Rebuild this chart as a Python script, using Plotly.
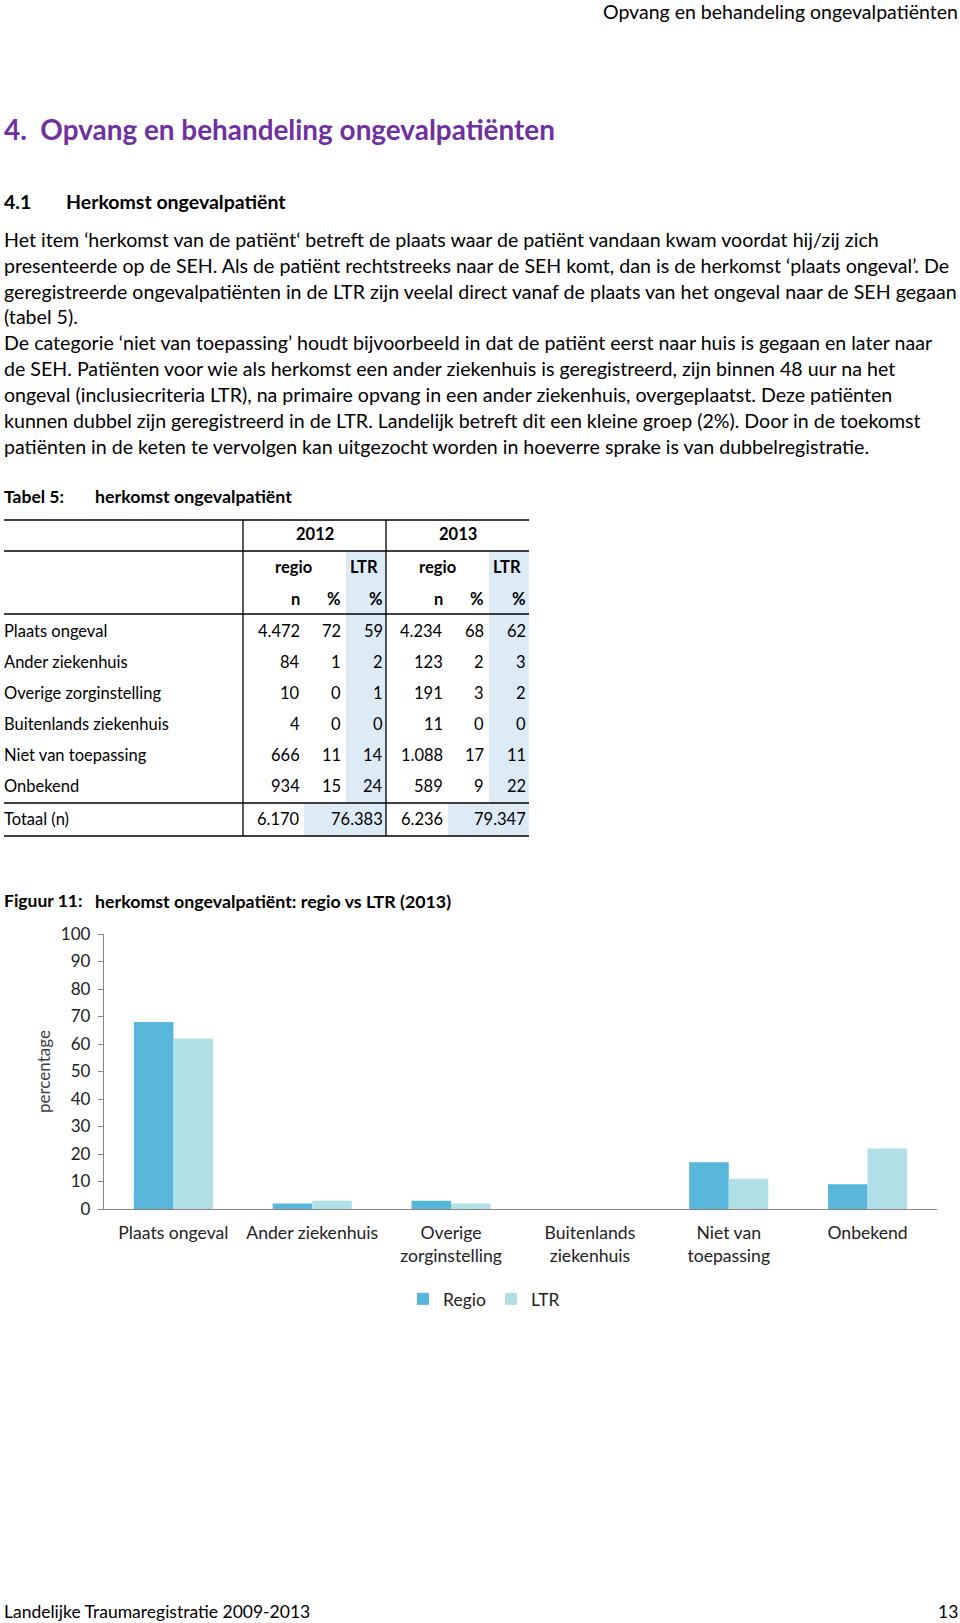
import plotly.graph_objects as go

W, H = 960, 1623
FONT = "Lato"

# ---------------- data ----------------
header_right = "Opvang en behandeling ongevalpatiënten"
title = "4.  Opvang en behandeling ongevalpatiënten"
sub_num = "4.1"
sub_title = "Herkomst ongevalpatiënt"
paragraph_lines = [
    "Het item ‘herkomst van de patiënt‘ betreft de plaats waar de patiënt vandaan kwam voordat hij/zij zich",
    "presenteerde op de SEH. Als de patiënt rechtstreeks naar de SEH komt, dan is de herkomst ‘plaats ongeval’. De",
    "geregistreerde ongevalpatiënten in de LTR zijn veelal direct vanaf de plaats van het ongeval naar de SEH gegaan",
    "(tabel 5).",
    "De categorie ‘niet van toepassing’ houdt bijvoorbeeld in dat de patiënt eerst naar huis is gegaan en later naar",
    "de SEH. Patiënten voor wie als herkomst een ander ziekenhuis is geregistreerd, zijn binnen 48 uur na het",
    "ongeval (inclusiecriteria LTR), na primaire opvang in een ander ziekenhuis, overgeplaatst. Deze patiënten",
    "kunnen dubbel zijn geregistreerd in de LTR. Landelijk betreft dit een kleine groep (2%). Door in de toekomst",
    "patiënten in de keten te vervolgen kan uitgezocht worden in hoeverre sprake is van dubbelregistratie.",
]
table_label = "Tabel 5:"
table_title = "herkomst ongevalpatiënt"
years = ["2012", "2013"]
row_labels = ["Plaats ongeval", "Ander ziekenhuis", "Overige zorginstelling",
              "Buitenlands ziekenhuis", "Niet van toepassing", "Onbekend"]
n_2012 = ["4.472", "84", "10", "4", "666", "934"]
pct_2012 = [72, 1, 0, 0, 11, 15]
ltr_2012 = [59, 2, 1, 0, 14, 24]
n_2013 = ["4.234", "123", "191", "11", "1.088", "589"]
pct_2013 = [68, 2, 3, 0, 17, 9]
ltr_2013 = [62, 3, 2, 0, 11, 22]
total_label = "Totaal (n)"
total_n = ["6.170", "6.236"]
total_ltr = ["76.383", "79.347"]

fig_label = "Figuur 11:"
fig_title = "herkomst ongevalpatiënt: regio vs LTR (2013)"
chart_categories = ["Plaats ongeval", "Ander ziekenhuis", "Overige<br>zorginstelling",
                    "Buitenlands<br>ziekenhuis", "Niet van<br>toepassing", "Onbekend"]
regio_values = pct_2013
ltr_values = ltr_2013
y_ticks = list(range(0, 101, 10))
footer_left = "Landelijke Traumaregistratie 2009-2013"
footer_right = "13"

# ---------------- helpers ----------------
def px(x):
    return x / W

def py(y):
    return 1 - y / H

annotations = []
shapes = []

def txt(x, y, s, size=17, bold=False, color="black", anchor="left", angle=0):
    annotations.append(dict(
        x=px(x), y=py(y), xref="paper", yref="paper", text=s, showarrow=False,
        xanchor=anchor, yanchor="middle", textangle=angle, borderpad=0,
        font=dict(family=FONT, size=size, color=color, weight="bold" if bold else "normal"),
    ))

def hline(y, x0, x1, w=1.3, color="black"):
    shapes.append(dict(type="line", xref="paper", yref="paper", x0=px(x0), x1=px(x1),
                       y0=py(y), y1=py(y), line=dict(color=color, width=w)))

def vline(x, y0, y1, w=1.3, color="black"):
    shapes.append(dict(type="line", xref="paper", yref="paper", x0=px(x), x1=px(x),
                       y0=py(y0), y1=py(y1), line=dict(color=color, width=w)))

def rect(x0, y0, x1, y1, color):
    shapes.append(dict(type="rect", xref="paper", yref="paper", x0=px(x0), x1=px(x1),
                       y0=py(y1), y1=py(y0), line=dict(width=0), fillcolor=color, layer="below"))

BODY = 19.6

# ---------------- page text ----------------
txt(959, 11.5, header_right, size=19.5, anchor="right")
txt(3, 129.5, title, size=27.9, bold=True, color="#7030A0")
txt(3, 201, sub_num, size=19.5, bold=True)
txt(65, 201, sub_title, size=19.5, bold=True)
line_y = [239.2, 265.1, 291.0, 316.9, 342.8, 368.7, 394.6, 420.5, 446.3]
for yy, line in zip(line_y, paragraph_lines):
    txt(3, yy, line, size=BODY)

# ---------------- table ----------------
TS = 16.5
txt(3, 496, table_label, size=17.5, bold=True)
txt(94, 496, table_title, size=17.8, bold=True)

X0, XV1, XV2, X1 = 4, 243, 386, 529
Y_TOP, Y_H1, Y_H2, Y_TOT, Y_BOT = 520, 551, 614, 803, 836
SHADE = "#DDEBF7"
rect(346, Y_H1, XV2, Y_TOT, SHADE)
rect(489, Y_H1, X1, Y_TOT, SHADE)
rect(304, Y_TOT, XV2, Y_BOT, SHADE)
rect(448, Y_TOT, X1, Y_BOT, SHADE)
for yy in [Y_TOP, Y_H1, Y_H2, Y_TOT, Y_BOT]:
    hline(yy, X0, X1)
for xx in [XV1, XV2]:
    vline(xx, Y_TOP, Y_BOT)

txt((XV1 + XV2) / 2, 534, years[0], size=TS, bold=True, anchor="center")
txt((XV2 + X1) / 2, 534, years[1], size=TS, bold=True, anchor="center")
txt(293, 567, "regio", size=TS, bold=True, anchor="center")
txt(364, 567, "LTR", size=TS, bold=True, anchor="center")
txt(437, 567, "regio", size=TS, bold=True, anchor="center")
txt(507, 567, "LTR", size=TS, bold=True, anchor="center")
col_right = [301, 342, 384, 444, 485, 527]
for cx, s in zip(col_right, ["n", "%", "%", "n", "%", "%"]):
    txt(cx, 599, s, size=TS, bold=True, anchor="right")

row_y = [631, 662, 693, 724, 755, 786]
for i, yy in enumerate(row_y):
    txt(3, yy, row_labels[i], size=TS)
    vals = [n_2012[i], str(pct_2012[i]), str(ltr_2012[i]),
            n_2013[i], str(pct_2013[i]), str(ltr_2013[i])]
    for cx, v in zip(col_right, vals):
        txt(cx, yy, v, size=TS, anchor="right")
txt(3, 819, total_label, size=TS)
txt(col_right[0], 819, total_n[0], size=TS, anchor="right")
txt(col_right[2], 819, total_ltr[0], size=TS, anchor="right")
txt(col_right[3], 819, total_n[1], size=TS, anchor="right")
txt(col_right[5], 819, total_ltr[1], size=TS, anchor="right")

# ---------------- figure caption ----------------
txt(3, 901, fig_label, size=17.5, bold=True)
txt(94, 901, fig_title, size=17.8, bold=True)
txt(43, 1072, "percentage", size=17, color="#404040", anchor="center", angle=-90)

# footer
txt(3, 1611, footer_left, size=17.5)
txt(959, 1611, footer_right, size=17.5, anchor="right")

# ---------------- chart ----------------
fig = go.Figure()
fig.add_bar(x=chart_categories, y=regio_values, name="Regio", marker_color="#58B6DB",
            marker_line_width=0)
fig.add_bar(x=chart_categories, y=ltr_values, name="LTR", marker_color="#B0DFE5",
            marker_line_width=0)

AX = "#868686"
fig.update_layout(
    width=W, height=H, margin=dict(l=0, r=0, t=0, b=0, autoexpand=False),
    paper_bgcolor="white", plot_bgcolor="white",
    barmode="group", bargap=0.43, bargroupgap=0,
    font=dict(family=FONT, size=17, color="#222"),
    xaxis=dict(domain=[px(104), px(937)], showline=True, linecolor=AX, linewidth=1.3,
               ticks="", showgrid=False, tickfont=dict(size=17.6, color="#222"),
               anchor="y", ticklabelstandoff=8, automargin=False),
    yaxis=dict(domain=[py(1209), py(934)], range=[0, 100], tickvals=y_ticks,
               showline=True, linecolor=AX, linewidth=1.3, ticks="outside",
               ticklen=5, tickcolor=AX, showgrid=False, zeroline=False,
               tickfont=dict(size=17, color="#222"), ticklabelstandoff=4,
               automargin=False),
    legend=dict(orientation="h", x=px(484), xanchor="center", y=py(1299), yanchor="middle",
                font=dict(size=17.5, color="#222"), itemwidth=30, tracegroupgap=0),
    showlegend=True,
    annotations=annotations, shapes=shapes,
)

fig.write_html("out.html", config={"displayModeBar": False},
               post_script="document.body.style.margin='0px';document.body.style.overflow='hidden';")
